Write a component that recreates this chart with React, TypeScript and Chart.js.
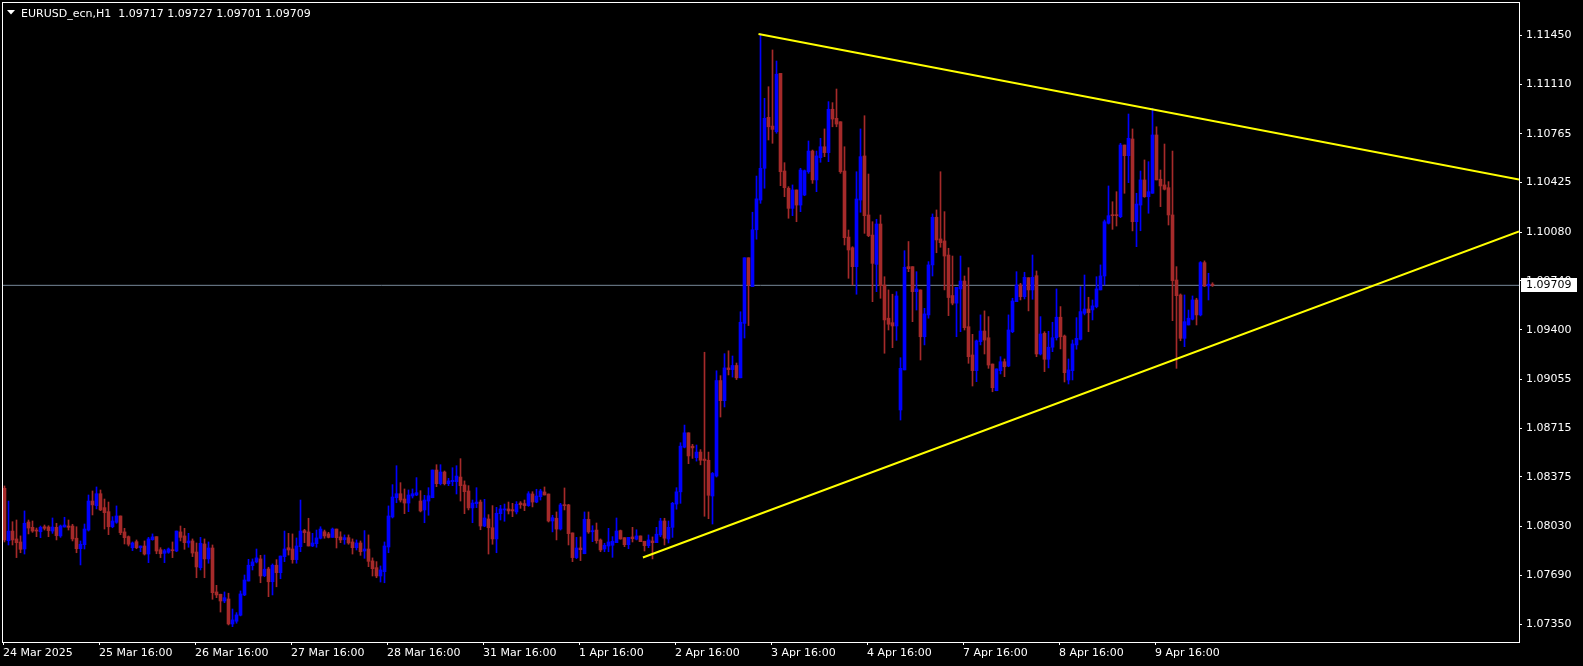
import React, { useEffect, useRef } from "react";
import { Chart, registerables } from "chart.js";

Chart.register(...registerables);

const symbolName = "EURUSD_ecn,H1";

const opens = [
  1.08296,1.07931,1.07998,1.07943,1.07922,1.07873,1.08061,1.08024,1.08005,1.07993,
  1.08028,1.08026,1.07998,1.08024,1.07964,1.08026,1.08033,1.08033,1.07948,1.07875,
  1.07903,1.08005,1.08207,1.08175,1.08258,1.08161,1.08133,1.08028,1.08059,1.08103,
  1.07992,1.07959,1.07882,1.07924,1.07882,1.07894,1.07838,1.07938,1.07959,1.07868,
  1.07843,1.07850,1.07868,1.07859,1.07992,1.07964,1.07915,1.07929,1.07852,1.07743,
  1.07908,1.07804,1.07880,1.07574,1.07558,1.07511,1.07525,1.07351,1.07370,1.07412,
  1.07553,1.07650,1.07757,1.07783,1.07804,1.07687,1.07734,1.07645,1.07760,1.07708,
  1.07820,1.07882,1.07873,1.07799,1.07889,1.08001,1.07992,1.07894,1.07910,1.07948,
  1.07993,1.07978,1.07954,1.08012,1.07957,1.07938,1.07952,1.07922,1.07882,1.07915,
  1.07859,1.07873,1.07790,1.07743,1.07685,1.07715,1.07887,1.08096,1.08230,1.08258,
  1.08221,1.08193,1.08242,1.08249,1.08207,1.08145,1.08207,1.08230,1.08423,1.08328,
  1.08409,1.08328,1.08342,1.08342,1.08374,1.08319,1.08277,1.08159,1.08189,1.08200,
  1.08033,1.08082,1.08021,1.07943,1.08119,1.08145,1.08152,1.08147,1.08131,1.08193,
  1.08189,1.08175,1.08256,1.08200,1.08237,1.08270,1.08256,1.08068,1.08087,1.08012,
  1.08182,1.08180,1.07985,1.07813,1.07880,1.07840,1.08080,1.07993,1.08005,1.07936,
  1.07873,1.07894,1.07899,1.07917,1.08001,1.07952,1.07903,1.07957,1.07941,1.07964,
  1.07927,1.07896,1.07929,1.07917,1.07971,1.08068,1.07943,1.08024,1.08186,1.08271,
  1.08582,1.08682,1.08589,1.08509,1.08548,1.08499,1.08491,1.08242,1.08381,1.09046,
  1.08906,1.09134,1.09122,1.09151,1.09065,1.09444,1.09901,1.09700,1.10096,1.10303,
  1.10524,1.10879,1.10818,1.10779,1.11185,1.10505,1.10385,1.10245,1.10373,1.10268,
  1.10338,1.10500,1.10644,1.10443,1.10598,1.10674,1.10633,1.10935,1.10872,1.10848,
  1.10505,1.10045,1.09971,1.09839,1.10303,1.10610,1.10199,1.10059,1.09855,1.10136,
  1.09711,1.09480,1.09449,1.09426,1.08841,1.09120,1.09839,1.09839,1.09665,1.09677,
  1.09351,1.09503,1.09851,1.10183,1.10032,1.10018,1.09920,1.09638,1.09585,1.09684,
  1.09739,1.09421,1.09224,1.09115,1.09317,1.09391,1.09344,1.09161,1.08975,1.09115,
  1.09177,1.09147,1.09386,1.09595,1.09711,1.09630,1.09762,1.09677,1.09776,1.09231,
  1.09375,1.09194,1.09278,1.09344,1.09487,1.09356,1.09050,1.09115,1.09294,1.09333,
  1.09514,1.09544,1.09538,1.09561,1.09677,1.09774,1.10141,1.10199,1.10199,1.10187,
  1.10686,1.10612,1.10728,1.10152,1.10268,1.10443,1.10326,1.10350,1.10756,1.10448,
  1.10408,1.10389,1.10199,1.09746,1.09642,1.09340,1.09433,1.09473,1.09607,1.09503,
  1.09867,1.09705,1.09717,
];

const highs = [
  1.08312,1.08207,1.08063,1.08075,1.07964,1.08138,1.08075,1.08068,1.08019,1.08033,
  1.08040,1.08035,1.08089,1.08052,1.08040,1.08094,1.08075,1.08045,1.08028,1.07929,
  1.08047,1.08249,1.08277,1.08305,1.08284,1.08221,1.08200,1.08098,1.08173,1.08103,
  1.08017,1.07964,1.07922,1.07936,1.07894,1.07929,1.07954,1.07978,1.07959,1.07882,
  1.07871,1.07880,1.07922,1.07998,1.08033,1.08017,1.07982,1.07943,1.07915,1.07954,
  1.07943,1.07922,1.07901,1.07620,1.07558,1.07574,1.07565,1.07455,1.07430,1.07581,
  1.07692,1.07801,1.07804,1.07873,1.07829,1.07831,1.07746,1.07769,1.07799,1.07824,
  1.07998,1.07982,1.07978,1.07950,1.08214,1.08010,1.08087,1.07982,1.08005,1.08028,
  1.08005,1.07989,1.08019,1.08012,1.07993,1.07971,1.07971,1.07943,1.07936,1.07929,
  1.08001,1.07971,1.07811,1.07785,1.07755,1.07922,1.08173,1.08321,1.08453,1.08335,
  1.08291,1.08284,1.08291,1.08370,1.08279,1.08247,1.08300,1.08423,1.08460,1.08460,
  1.08416,1.08365,1.08439,1.08453,1.08502,1.08347,1.08314,1.08214,1.08300,1.08214,
  1.08219,1.08112,1.08175,1.08163,1.08177,1.08186,1.08200,1.08191,1.08203,1.08203,
  1.08214,1.08272,1.08272,1.08289,1.08289,1.08305,1.08256,1.08108,1.08131,1.08191,
  1.08298,1.08184,1.07985,1.07954,1.07957,1.08131,1.08131,1.08035,1.08054,1.07943,
  1.07913,1.08017,1.07959,1.08089,1.08005,1.07952,1.07954,1.08024,1.08007,1.07964,
  1.07927,1.07971,1.07957,1.08024,1.08087,1.08087,1.08068,1.08198,1.08300,1.08613,
  1.08736,1.08682,1.08602,1.08597,1.08565,1.09243,1.08548,1.08406,1.09114,1.09080,
  1.09233,1.09253,1.09217,1.09168,1.09525,1.09901,1.09901,1.10218,1.10470,1.11459,
  1.11011,1.11092,1.11348,1.11271,1.11185,1.10563,1.10396,1.10408,1.10373,1.10524,
  1.10512,1.10714,1.10651,1.10644,1.10733,1.10798,1.10988,1.10981,1.11076,1.10848,
  1.10674,1.10094,1.09978,1.10500,1.10798,1.10890,1.10484,1.10152,1.10169,1.10199,
  1.09769,1.09677,1.09647,1.09665,1.09205,1.09950,1.10014,1.09839,1.09804,1.09677,
  1.09549,1.09874,1.10206,1.10234,1.10500,1.10222,1.09967,1.09913,1.09695,1.09913,
  1.09774,1.09832,1.09368,1.09328,1.09503,1.09531,1.09491,1.09161,1.09127,1.09212,
  1.09196,1.09503,1.09619,1.09804,1.09723,1.09800,1.09762,1.09920,1.09809,1.09491,
  1.09386,1.09389,1.09452,1.09684,1.09561,1.09363,1.09196,1.09328,1.09484,1.09700,
  1.09781,1.09626,1.09607,1.09769,1.09851,1.10164,1.10401,1.10291,1.10361,1.10698,
  1.10686,1.10902,1.10798,1.10350,1.10505,1.10582,1.10570,1.10942,1.10813,1.10512,
  1.10693,1.10431,1.10644,1.09839,1.09649,1.09642,1.09537,1.09635,1.09619,1.09874,
  1.09879,1.09793,1.09727,
];

const lows = [
  1.07922,1.07901,1.07901,1.07813,1.07847,1.07838,1.07978,1.07989,1.07959,1.07952,
  1.08005,1.07959,1.07982,1.07936,1.07954,1.08026,1.08005,1.07929,1.07847,1.07762,
  1.07873,1.07998,1.08110,1.08152,1.08140,1.08012,1.07973,1.08021,1.08052,1.07973,
  1.07908,1.07894,1.07862,1.07875,1.07854,1.07831,1.07778,1.07934,1.07840,1.07813,
  1.07778,1.07843,1.07813,1.07854,1.07929,1.07871,1.07885,1.07820,1.07673,1.07727,
  1.07673,1.07774,1.07523,1.07534,1.07434,1.07499,1.07344,1.07332,1.07356,1.07407,
  1.07548,1.07650,1.07727,1.07776,1.07638,1.07680,1.07541,1.07553,1.07610,1.07666,
  1.07785,1.07831,1.07774,1.07774,1.07854,1.07917,1.07894,1.07889,1.07885,1.07943,
  1.07948,1.07950,1.07954,1.07880,1.07917,1.07906,1.07906,1.07838,1.07866,1.07829,
  1.07808,1.07750,1.07685,1.07673,1.07643,1.07638,1.07847,1.08089,1.08195,1.08200,
  1.08119,1.08133,1.08228,1.08244,1.08131,1.08056,1.08108,1.08230,1.08307,1.08319,
  1.08319,1.08314,1.08314,1.08256,1.08207,1.08119,1.08145,1.08056,1.08161,1.08007,
  1.08028,1.07838,1.07906,1.07847,1.08075,1.08066,1.08117,1.08098,1.08117,1.08156,
  1.08140,1.08170,1.08166,1.08195,1.08214,1.08249,1.08061,1.07992,1.07936,1.08005,
  1.08145,1.07901,1.07785,1.07806,1.07792,1.07840,1.07982,1.07924,1.07913,1.07854,
  1.07854,1.07854,1.07815,1.07917,1.07941,1.07889,1.07875,1.07922,1.07936,1.07924,
  1.07859,1.07882,1.07804,1.07917,1.07959,1.07901,1.07915,1.07954,1.08150,1.08191,
  1.08577,1.08467,1.08504,1.08485,1.08459,1.08101,1.08084,1.08047,1.08374,1.08792,
  1.08862,1.09085,1.09070,1.09053,1.09065,1.09342,1.09429,1.09700,1.10030,1.10280,
  1.10385,1.10721,1.10698,1.10768,1.10403,1.10326,1.10176,1.10194,1.10152,1.10222,
  1.10333,1.10489,1.10419,1.10361,1.10566,1.10605,1.10570,1.10813,1.10813,1.10489,
  1.09990,1.09758,1.09711,1.09647,1.10218,1.10071,1.10048,1.09595,1.09665,1.09619,
  1.09236,1.09398,1.09275,1.09326,1.08771,1.09120,1.09804,1.09456,1.09537,1.09189,
  1.09294,1.09480,1.09774,1.09936,1.09974,1.09677,1.09498,1.09573,1.09351,1.09386,
  1.09398,1.09166,1.09008,1.09038,1.09294,1.09231,1.09131,1.08968,1.08975,1.09092,
  1.09073,1.09142,1.09379,1.09595,1.09607,1.09614,1.09531,1.09612,1.09212,1.09224,
  1.09108,1.09134,1.09247,1.09328,1.09266,1.09036,1.09022,1.09050,1.09264,1.09328,
  1.09503,1.09386,1.09468,1.09552,1.09677,1.09711,1.10136,1.10099,1.10122,1.10180,
  1.10350,1.10424,1.10088,1.09978,1.10089,1.10322,1.10211,1.10350,1.10443,1.10257,
  1.10373,1.10129,1.09463,1.09131,1.09323,1.09282,1.09433,1.09468,1.09433,1.09496,
  1.09700,1.09607,1.09701,
];

const closes = [
  1.07936,1.07998,1.07936,1.07917,1.07871,1.08052,1.08019,1.07998,1.07998,1.08024,
  1.08017,1.08001,1.08026,1.07966,1.08033,1.08040,1.08024,1.07943,1.07875,1.07906,
  1.08012,1.08207,1.08180,1.08258,1.08145,1.08126,1.08028,1.08068,1.08103,1.07987,
  1.07952,1.07906,1.07915,1.07882,1.07894,1.07838,1.07943,1.07957,1.07859,1.07840,
  1.07861,1.07873,1.07861,1.07998,1.07954,1.07917,1.07929,1.07845,1.07748,1.07913,
  1.07804,1.07880,1.07569,1.07553,1.07511,1.07534,1.07351,1.07379,1.07414,1.07560,
  1.07657,1.07760,1.07783,1.07811,1.07685,1.07732,1.07645,1.07760,1.07708,1.07824,
  1.07873,1.07866,1.07799,1.07894,1.07998,1.07987,1.07894,1.07915,1.07950,1.08012,
  1.07964,1.07954,1.08012,1.07952,1.07936,1.07952,1.07915,1.07882,1.07915,1.07854,
  1.07873,1.07787,1.07736,1.07685,1.07727,1.07894,1.08103,1.08235,1.08258,1.08214,
  1.08193,1.08249,1.08258,1.08265,1.08138,1.08214,1.08244,1.08423,1.08328,1.08409,
  1.08328,1.08347,1.08351,1.08381,1.08314,1.08272,1.08159,1.08193,1.08200,1.08033,
  1.08089,1.08021,1.07943,1.08122,1.08152,1.08152,1.08138,1.08138,1.08184,1.08182,
  1.08175,1.08258,1.08200,1.08242,1.08277,1.08249,1.08068,1.08091,1.08012,1.08180,
  1.08175,1.07980,1.07813,1.07880,1.07868,1.08080,1.07992,1.08001,1.07931,1.07866,
  1.07899,1.07922,1.07927,1.07998,1.07943,1.07903,1.07954,1.07945,1.07964,1.07924,
  1.07896,1.07936,1.07917,1.07976,1.08068,1.07948,1.08024,1.08191,1.08271,1.08589,
  1.08682,1.08521,1.08577,1.08548,1.08491,1.08489,1.08247,1.08399,1.09046,1.08906,
  1.09134,1.09122,1.09151,1.09065,1.09452,1.09901,1.09713,1.10096,1.10311,1.10524,
  1.10872,1.10813,1.10795,1.11179,1.10500,1.10389,1.10245,1.10373,1.10268,1.10512,
  1.10507,1.10644,1.10443,1.10610,1.10674,1.10633,1.10935,1.10867,1.10832,1.10500,
  1.10041,1.09955,1.09839,1.10310,1.10605,1.10194,1.10055,1.09862,1.10136,1.09707,
  1.09468,1.09438,1.09426,1.09635,1.09131,1.09835,1.09825,1.09665,1.09684,1.09351,
  1.09510,1.09851,1.10183,1.10025,1.10006,1.09913,1.09624,1.09585,1.09695,1.09739,
  1.09414,1.09212,1.09115,1.09322,1.09391,1.09328,1.09154,1.08996,1.09127,1.09177,
  1.09142,1.09398,1.09600,1.09711,1.09630,1.09765,1.09677,1.09765,1.09231,1.09370,
  1.09194,1.09278,1.09344,1.09487,1.09351,1.09101,1.09120,1.09301,1.09340,1.09526,
  1.09544,1.09519,1.09566,1.09684,1.09774,1.10152,1.10194,1.10194,1.10194,1.10686,
  1.10612,1.10733,1.10152,1.10275,1.10443,1.10326,1.10361,1.10756,1.10443,1.10401,
  1.10378,1.10199,1.09741,1.09637,1.09340,1.09456,1.09480,1.09607,1.09503,1.09867,
  1.09704,1.09717,1.09709,
];

const xTickLabels = [
  "24 Mar 2025", "25 Mar 16:00", "26 Mar 16:00", "27 Mar 16:00", "28 Mar 16:00",
  "31 Mar 16:00", "1 Apr 16:00", "2 Apr 16:00", "3 Apr 16:00", "4 Apr 16:00",
  "7 Apr 16:00", "8 Apr 16:00", "9 Apr 16:00",
];
const barsPerLabel = 24;

const priceTicks = [
  1.1145, 1.1111, 1.10765, 1.10425, 1.1008, 1.0974, 1.094,
  1.09055, 1.08715, 1.08375, 1.0803, 1.0769, 1.0735,
];

// trend lines: [bar index, price]
const upperTrend = [
  { x: 188.5, y: 1.11459 },
  { x: 378.625, y: 1.10445 },
];
const lowerTrend = [
  { x: 159.6, y: 1.07814 },
  { x: 378.625, y: 1.10084 },
];

const W = 1583;
const H = 666;
const X_MIN = -0.625;
const X_MAX = 378.625;
const Y_MIN = 1.072254;
const Y_MAX = 1.116819;
const UP = "#0000FF";
const DOWN = "#A52A2A";
const FAMILY = "'DejaVu Sans', sans-serif";
const FONT = { family: FAMILY, size: 11 };

const mtPlugin = {
  id: "mtDecor",
  beforeDraw(chart: any) {
    const { ctx, width, height } = chart;
    ctx.save();
    ctx.fillStyle = "#000";
    ctx.fillRect(0, 0, width, height);
    ctx.restore();
  },
  afterDraw(chart: any) {
    const { ctx, chartArea: a, scales } = chart;
    ctx.save();
    // frame
    ctx.strokeStyle = "#fff";
    ctx.lineWidth = 1;
    ctx.strokeRect(a.left + 0.5, a.top + 0.5, a.right - a.left, a.bottom - a.top);

    // current price box
    const n = closes.length - 1;
    const last = closes[n];
    const py = scales.y.getPixelForValue(last);
    ctx.fillStyle = "#fff";
    ctx.fillRect(a.right + 2, Math.round(py) - 7, 56, 14);
    ctx.fillStyle = "#000";
    ctx.font = `11px ${FAMILY}`;
    ctx.textAlign = "left";
    ctx.textBaseline = "middle";
    ctx.fillText(last.toFixed(5), a.right + 7, py);

    // header
    ctx.fillStyle = "#fff";
    ctx.textBaseline = "alphabetic";
    const header = `${symbolName}  ${opens[n].toFixed(5)} ${highs[n].toFixed(5)} ${lows[n].toFixed(5)} ${closes[n].toFixed(5)}`;
    ctx.fillText(header, 21, 17);
    ctx.beginPath();
    ctx.moveTo(7, 10);
    ctx.lineTo(15, 10);
    ctx.lineTo(11, 14.5);
    ctx.closePath();
    ctx.fill();
    ctx.restore();
  },
};

export default function App() {
  const ref = useRef<HTMLCanvasElement | null>(null);

  useEffect(() => {
    document.body.style.margin = "0";
    document.body.style.background = "#000";
    const canvas = ref.current;
    if (!canvas) return;

    const idx = closes.map((_, i) => i);
    const colors = idx.map((i) => (closes[i] > opens[i] ? UP : DOWN));
    const last = closes[closes.length - 1];

    const chart = new Chart(canvas, {
      type: "bar",
      data: {
        datasets: [
          {
            type: "line",
            data: [
              { x: X_MIN, y: last },
              { x: X_MAX, y: last },
            ],
            borderColor: "#778899",
            borderWidth: 1,
            pointRadius: 0,
            order: 5,
          } as any,
          {
            type: "bar",
            data: idx.map((i) => ({ x: i, y: [lows[i], highs[i]] })),
            backgroundColor: colors,
            borderWidth: 0,
            barThickness: 1,
            grouped: false,
            order: 4,
          } as any,
          {
            type: "bar",
            data: idx.map((i) => ({ x: i, y: [opens[i], closes[i]] })),
            backgroundColor: colors,
            borderWidth: 0,
            barThickness: 3,
            minBarLength: 1,
            grouped: false,
            order: 3,
          } as any,
          {
            type: "line",
            data: upperTrend,
            borderColor: "#FFFF00",
            borderWidth: 2,
            pointRadius: 0,
            order: 1,
          } as any,
          {
            type: "line",
            data: lowerTrend,
            borderColor: "#FFFF00",
            borderWidth: 2,
            pointRadius: 0,
            order: 1,
          } as any,
        ],
      },
      options: {
        responsive: false,
        animation: false,
        devicePixelRatio: 1,
        events: [],
        layout: { padding: { left: 2, top: 2, right: 0, bottom: 0 } },
        plugins: {
          legend: { display: false },
          tooltip: { enabled: false },
        },
        scales: {
          x: {
            type: "linear",
            position: "bottom",
            min: X_MIN,
            max: X_MAX,
            offset: false,
            afterFit: (s: any) => {
              s.height = 24;
              s.paddingLeft = 0;
              s.paddingRight = 0;
            },
            afterBuildTicks: (s: any) => {
              s.ticks = xTickLabels.map((_, k) => ({ value: k * barsPerLabel - 0.375 }));
            },
            ticks: {
              autoSkip: false,
              maxRotation: 0,
              minRotation: 0,
              align: "start",
              color: "#fff",
              font: FONT,
              padding: 2,
              callback: (_v: any, i: number) => xTickLabels[i] ?? "",
            },
            grid: {
              offset: false,
              drawOnChartArea: false,
              drawTicks: true,
              tickLength: 3,
              color: "#fff",
            },
            border: { display: false },
          },
          y: {
            type: "linear",
            position: "right",
            min: Y_MIN,
            max: Y_MAX,
            beginAtZero: false,
            afterFit: (s: any) => {
              s.width = 64;
              s.paddingTop = 0;
              s.paddingBottom = 0;
            },
            afterBuildTicks: (s: any) => {
              s.ticks = priceTicks.map((v) => ({ value: v }));
            },
            ticks: {
              autoSkip: false,
              color: "#fff",
              font: FONT,
              padding: 4,
              callback: (v: any) => Number(v).toFixed(5),
            },
            grid: {
              drawOnChartArea: false,
              drawTicks: true,
              tickLength: 3,
              color: "#fff",
            },
            border: { display: false },
          },
        },
      } as any,
      plugins: [mtPlugin],
    });

    return () => chart.destroy();
  }, []);

  return (
    <div style={{ width: W, height: H, background: "#000", position: "relative" }}>
      <canvas ref={ref} width={W} height={H} style={{ display: "block" }} />
    </div>
  );
}
